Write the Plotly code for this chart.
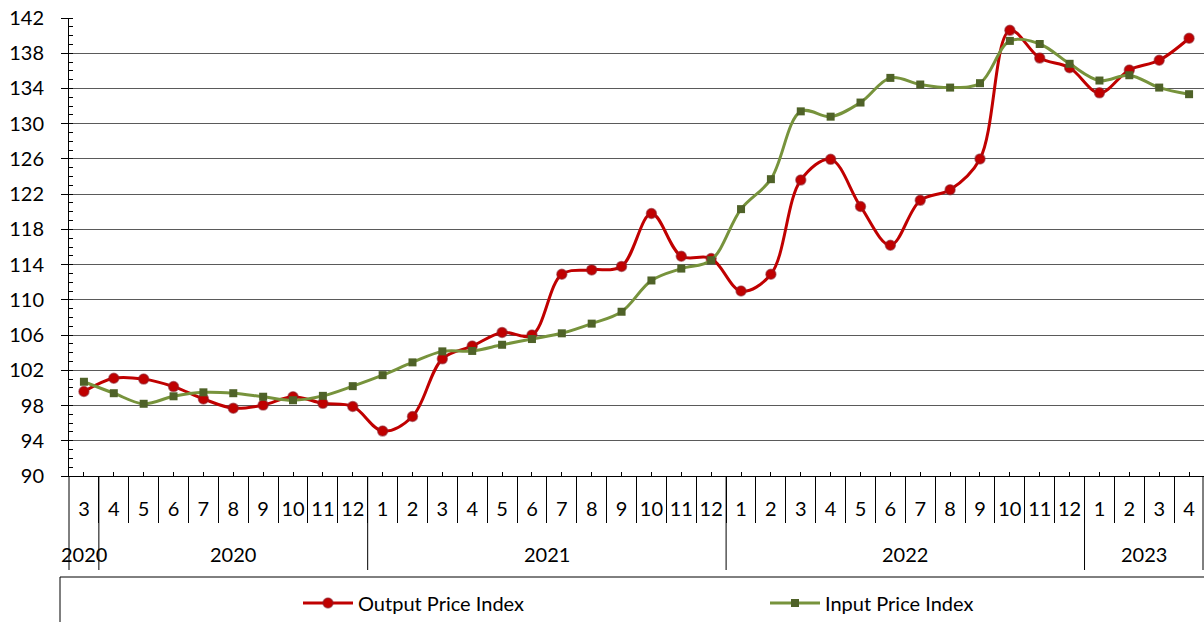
import plotly.graph_objects as go

# ---------------- data ----------------
months = ["3", "4", "5", "6", "7", "8", "9", "10", "11", "12",
          "1", "2", "3", "4", "5", "6", "7", "8", "9", "10", "11", "12",
          "1", "2", "3", "4", "5", "6", "7", "8", "9", "10", "11", "12",
          "1", "2", "3", "4"]
year_groups = ["2020", "2020", "2021", "2022", "2023"]
group_sizes = [1, 9, 12, 12, 4]

output_price = [99.6, 101.1, 101.0, 100.15, 98.75, 97.7, 98.05, 99.0, 98.25, 97.9,
                95.1, 96.75, 103.3, 104.75, 106.3, 106.0, 112.9, 113.4, 113.8, 119.8,
                114.95, 114.7,
                111.0, 112.9, 123.6, 125.95, 120.6, 116.2, 121.3, 122.5, 126.0, 140.6,
                137.45, 136.35,
                133.5, 136.1, 137.2, 139.7]
input_price = [100.7, 99.4, 98.2, 99.05, 99.5, 99.4, 99.0, 98.6, 99.1, 100.2,
               101.45, 102.9, 104.15, 104.2, 104.9, 105.55, 106.2, 107.3, 108.65, 112.2,
               113.55, 114.5,
               120.3, 123.7, 131.4, 130.8, 132.4, 135.2, 134.45, 134.1, 134.6, 139.4,
               139.05, 136.8,
               134.9, 135.5, 134.1, 133.35]

y_ticks = list(range(90, 143, 4))

# ---------------- geometry (page pixels; body margin removed in post_script) ----------------
FONT = "Lato"
FS = 20
FIG_W, FIG_H = 1204, 622
PLOT_LEFT, PLOT_TOP, PLOT_BOTTOM = 69, 18, 476
ph = PLOT_BOTTOM - PLOT_TOP
pw = FIG_W - PLOT_LEFT

n = len(months)
xs = list(range(n))
x_range = [-0.5, n - 0.5]


def py(page_y):
    return (PLOT_BOTTOM - page_y) / ph


def px(page_x):
    return (page_x - PLOT_LEFT) / pw


def xpaper(v):
    return (v - x_range[0]) / (x_range[1] - x_range[0])


fig = go.Figure()
fig.add_trace(go.Scatter(
    x=xs, y=output_price, name="Output Price Index", mode="lines+markers",
    line=dict(color="#C00000", width=3, shape="spline", smoothing=1),
    marker=dict(symbol="circle", size=10, color="#C00000",
                line=dict(color="rgba(140,30,40,0.55)", width=1.5)),
    legend="legend",
))
fig.add_trace(go.Scatter(
    x=xs, y=input_price, name="Input Price Index", mode="lines+markers",
    line=dict(color="#77933C", width=3, shape="spline", smoothing=1),
    marker=dict(symbol="square", size=8, color="#4F6228"),
    legend="legend2",
))

shapes = []
bounds = [-0.5]
for s in group_sizes:
    bounds.append(bounds[-1] + s)
for b in bounds:
    xp = min(xpaper(b), px(1203))
    shapes.append(dict(type="line", xref="paper", yref="paper",
                       x0=xp, x1=xp, y0=0, y1=py(570),
                       line=dict(color="black", width=1)))
shapes.append(dict(type="rect", xref="paper", yref="paper",
                   x0=px(60), x1=px(1215), y0=py(577), y1=py(640),
                   line=dict(color="black", width=1), fillcolor="rgba(0,0,0,0)"))

annotations = []
start = 0
for lab, s in zip(year_groups, group_sizes):
    center = start + (s - 1) / 2
    annotations.append(dict(x=center, xref="x", y=py(554), yref="paper",
                            text=lab, showarrow=False, yanchor="middle",
                            font=dict(family=FONT, size=FS, color="black")))
    start += s

leg_common = dict(orientation="h", xanchor="left", yanchor="middle", y=py(603),
                  font=dict(family=FONT, size=FS, color="black"),
                  bgcolor="rgba(0,0,0,0)", borderwidth=0, itemwidth=50)

fig.update_layout(
    width=FIG_W, height=FIG_H,
    margin=dict(l=PLOT_LEFT, r=0, t=PLOT_TOP, b=FIG_H - PLOT_BOTTOM, pad=0, autoexpand=False),
    paper_bgcolor="white", plot_bgcolor="white",
    font=dict(family=FONT, size=FS, color="black"),
    shapes=shapes, annotations=annotations,
    showlegend=True,
    legend=dict(x=px(298), **leg_common),
    legend2=dict(x=px(765), **leg_common),
)

fig.update_xaxes(
    range=x_range, tickmode="array", tickvals=xs, ticktext=months,
    showline=True, linecolor="black", linewidth=1,
    showgrid=False, zeroline=False, automargin=False,
    ticks="inside", ticklen=4, tickcolor="black", tickwidth=1,
    ticklabelstandoff=15, ticklabeloverflow="allow",
    tickfont=dict(family=FONT, size=FS, color="black"),
    minor=dict(ticks="outside", ticklen=46, tick0=-0.5, dtick=1,
               tickcolor="black", tickwidth=1, showgrid=False),
)
fig.update_yaxes(
    range=[90, 142], tickmode="array", tickvals=y_ticks,
    showline=True, linecolor="black", linewidth=1,
    showgrid=True, gridcolor="#5a5a5a", gridwidth=1, zeroline=False, automargin=False,
    ticks="outside", ticklen=7, tickcolor="black",
    ticklabelstandoff=13, ticklabeloverflow="allow",
    tickfont=dict(family=FONT, size=FS, color="black"),
    minor=dict(ticks="inside", ticklen=4, dtick=1, tick0=90,
               tickcolor="black", showgrid=False),
)

fig.write_html(
    "out.html",
    config={"displayModeBar": False},
    post_script="document.body.style.margin='0';document.body.style.overflow='hidden';",
)
